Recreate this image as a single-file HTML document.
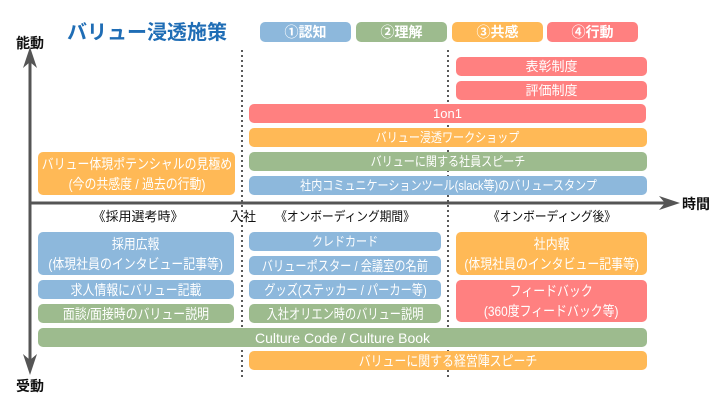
<!DOCTYPE html>
<html><head><meta charset="utf-8"><style>
body{margin:0;width:720px;height:405px;background:#fff;position:relative;overflow:hidden;font-family:"Liberation Sans","Noto Sans CJK JP",sans-serif}
.b{position:absolute;border-radius:5px;color:#fff;font-size:13px;display:flex;align-items:center;justify-content:center;text-align:center;line-height:18px;white-space:nowrap}
.b span{display:inline-block}
.s85 span{transform:scaleX(0.85)}
.s8 span{transform:scaleX(0.8)}
.bl{background:#8db8dc}.gr{background:#9dbb8e}.or{background:#ffb956}.rd{background:#ff8080}
.t{position:absolute;font-size:13px;color:#111;white-space:nowrap}
.h{font-weight:bold;font-size:14px}
</style></head><body>
<div class="t" style="left:67px;top:16px;font-size:20px;font-weight:bold;color:#1f6db5">バリュー浸透施策</div>
<div class="b bl h" style="left:260px;top:22px;width:91px;height:20px">①認知</div>
<div class="b gr h" style="left:356px;top:22px;width:91px;height:20px">②理解</div>
<div class="b or h" style="left:452px;top:22px;width:91px;height:20px">③共感</div>
<div class="b rd h" style="left:547px;top:22px;width:91px;height:20px">④行動</div>
<svg style="position:absolute;left:0;top:0" width="720" height="405">
<line x1="242" y1="50" x2="242" y2="378" stroke="#222" stroke-width="1.5" stroke-dasharray="2,3"/>
<line x1="448" y1="50" x2="448" y2="378" stroke="#222" stroke-width="1.5" stroke-dasharray="2,3"/>
<line x1="30" y1="58" x2="30" y2="368" stroke="#555" stroke-width="3"/>
<polygon points="30,47 23,68 30,62 37,68" fill="#555"/>
<polygon points="30,375 23,354 30,360 37,354" fill="#555"/>
<line x1="30" y1="203" x2="670" y2="203" stroke="#555" stroke-width="3"/>
<polygon points="680,203 659,196 665,203 659,210" fill="#555"/>
</svg>
<div class="t h" style="left:16px;top:33px">能動</div>
<div class="t h" style="left:16px;top:376px">受動</div>
<div class="t h" style="left:682px;top:194px">時間</div>
<div class="b rd" style="left:456px;top:57px;width:191px;height:19px">表彰制度</div>
<div class="b rd" style="left:456px;top:81px;width:191px;height:19px">評価制度</div>
<div class="b rd" style="left:249px;top:104px;width:397px;height:19px">1on1</div>
<div class="b or s85" style="left:249px;top:128px;width:398px;height:19px"><span>バリュー浸透ワークショップ</span></div>
<div class="b gr s85" style="left:249px;top:152px;width:398px;height:19px"><span>バリューに関する社員スピーチ</span></div>
<div class="b bl s85" style="left:249px;top:176px;width:398px;height:19px"><span>社内コミュニケーションツール(slack等)のバリュースタンプ</span></div>
<div class="b or s85" style="left:38px;top:152px;width:197px;height:43px;font-size:14px;line-height:20px"><span>バリュー体現ポテンシャルの見極め<br>(今の共感度 / 過去の行動)</span></div>
<div class="t" style="left:138px;top:206px;transform:translateX(-50%)">《採用選考時》</div>
<div class="t" style="left:230px;top:206px">入社</div>
<div class="t" style="left:345px;top:206px;transform:translateX(-50%) scaleX(0.9)">《オンボーディング期間》</div>
<div class="t" style="left:552px;top:206px;transform:translateX(-50%) scaleX(0.9)">《オンボーディング後》</div>
<div class="b bl s85" style="left:38px;top:232px;width:196px;height:43px;font-size:14px;line-height:20px"><span>採用広報<br>(体現社員のインタビュー記事等)</span></div>
<div class="b bl s85" style="left:38px;top:280px;width:196px;height:19px;font-size:14px"><span>求人情報にバリュー記載</span></div>
<div class="b gr s85" style="left:38px;top:304px;width:196px;height:19px;font-size:14px"><span>面談/面接時のバリュー説明</span></div>
<div class="b gr" style="left:38px;top:328px;width:609px;height:19px;font-size:14px">Culture Code / Culture Book</div>
<div class="b or s85" style="left:249px;top:351px;width:398px;height:19px;font-size:14px"><span>バリューに関する経営陣スピーチ</span></div>
<div class="b bl s85" style="left:249px;top:232px;width:192px;height:19px"><span>クレドカード</span></div>
<div class="b bl s8" style="left:249px;top:256px;width:192px;height:19px;font-size:14px"><span>バリューポスター / 会議室の名前</span></div>
<div class="b bl s8" style="left:249px;top:280px;width:192px;height:19px;font-size:14px"><span>グッズ(ステッカー / パーカー等)</span></div>
<div class="b gr s8" style="left:249px;top:304px;width:192px;height:19px;font-size:14px"><span>入社オリエン時のバリュー説明</span></div>
<div class="b or s85" style="left:456px;top:232px;width:191px;height:43px;font-size:14px;line-height:20px"><span>社内報<br>(体現社員のインタビュー記事等)</span></div>
<div class="b rd s85" style="left:456px;top:280px;width:191px;height:42px;font-size:14px;line-height:20px"><span>フィードバック<br>(360度フィードバック等)</span></div>
</body></html>
